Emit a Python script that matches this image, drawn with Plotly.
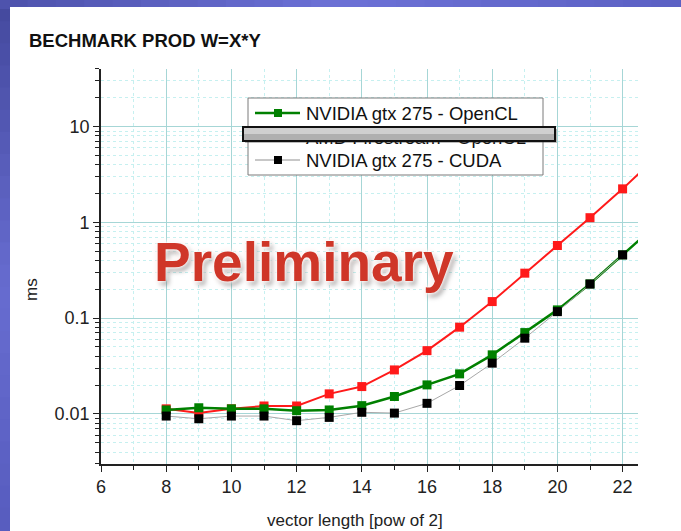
import plotly.graph_objects as go

# Benchmark results: elementwise product W = X*Y, time in ms vs log2(vector length)
vec_pow = [8, 9, 10, 11, 12, 13, 14, 15, 16, 17, 18, 19, 20, 21, 22, 23]
amd_opencl = [0.0113, 0.0102, 0.0113, 0.0121, 0.0121, 0.0162, 0.0193, 0.0288,
              0.0458, 0.0805, 0.149, 0.295, 0.574, 1.12, 2.24, 4.7]
nv_opencl = [0.0110, 0.0116, 0.0113, 0.0113, 0.0108, 0.0110, 0.0122, 0.0152,
             0.0201, 0.0262, 0.0414, 0.0707, 0.122, 0.228, 0.458, 0.92]
cuda_pow = [8, 9, 10, 11, 12, 13, 14, 15, 16, 17, 18, 19, 20, 21, 22]
nv_cuda = [0.0095, 0.0089, 0.0095, 0.0095, 0.0085, 0.0092, 0.0104, 0.0102,
           0.0129, 0.0198, 0.0339, 0.0618, 0.117, 0.227, 0.458]

legend_names = ["NVIDIA gtx 275 - OpenCL", "AMD Firestream - OpenCL", "NVIDIA gtx 275 - CUDA"]
x_ticks = [6, 8, 10, 12, 14, 16, 18, 20, 22]

W, H = 681, 531
L, R, T, B = 101, 43, 69, 67
PW, PH = W - L - R, H - T - B
FONT = "Liberation Sans, Arial"


def px(x):
    return (x - L) / PW


def py(y):
    return (H - B - y) / PH


def mix(c1, c2, t):
    a = [int(c1[i:i + 2], 16) for i in (1, 3, 5)]
    b = [int(c2[i:i + 2], 16) for i in (1, 3, 5)]
    return "rgb(%d,%d,%d)" % tuple(round(a[k] + (b[k] - a[k]) * t) for k in range(3))


fig = go.Figure()

fig.add_trace(go.Scatter(x=vec_pow, y=amd_opencl, mode="lines+markers",
                         line=dict(color="#ff1a1a", width=2),
                         marker=dict(symbol="square", size=9, color="#ff1a1a")))
fig.add_trace(go.Scatter(x=vec_pow, y=nv_opencl, mode="lines+markers",
                         line=dict(color="#008000", width=2.5),
                         marker=dict(symbol="square", size=9, color="#008000")))
fig.add_trace(go.Scatter(x=cuda_pow, y=nv_cuda, mode="lines+markers",
                         line=dict(color="#a8a8a8", width=1),
                         marker=dict(symbol="square", size=9, color="#000000")))

shapes = []
# blue slide frame, shaded in bands
n = 24
for i in range(n):
    t = i / (n - 1)
    c = mix("#454a9f", "#676cd0", t / 0.55) if t < 0.55 else mix("#676cd0", "#585dbf", (t - 0.55) / 0.45)
    shapes.append(dict(type="rect", xref="paper", yref="paper", layer="below",
                       x0=px(-2), x1=px(12), y0=py(H * (i + 1) / n + 1), y1=py(H * i / n - 1),
                       fillcolor=c, line=dict(width=0)))
    c2 = mix("#4e53ad", "#6c71d6", t / 0.5) if t < 0.5 else mix("#6c71d6", "#5c61c4", (t - 0.5) / 0.5)
    shapes.append(dict(type="rect", xref="paper", yref="paper", layer="below",
                       x0=px(W * i / n - 1), x1=px(W * (i + 1) / n + 1), y0=py(9), y1=py(-2),
                       fillcolor=c2, line=dict(width=0)))
# white slide panel
shapes.append(dict(type="rect", xref="paper", yref="paper", layer="below",
                   x0=px(10), x1=px(W + 5), y0=py(H + 5), y1=py(7),
                   fillcolor="white", line=dict(width=0)))

# legend box
shapes.append(dict(type="rect", xref="paper", yref="paper", layer="above",
                   x0=px(248), x1=px(543), y0=py(175), y1=py(98),
                   fillcolor="white", line=dict(color="#7a7a7a", width=1)))
rows = [113, 137, 160]
styles = [("#008000", 2.5, "#008000"), ("#ff1a1a", 2, "#ff1a1a"), ("#909090", 1, "#000000")]
for ry, (lc, lw, mc) in zip(rows, styles):
    shapes.append(dict(type="line", xref="paper", yref="paper", layer="above",
                       x0=px(255), x1=px(300), y0=py(ry), y1=py(ry),
                       line=dict(color=lc, width=lw)))
    shapes.append(dict(type="rect", xref="paper", yref="paper", layer="above",
                       x0=px(274), x1=px(282), y0=py(ry + 4), y1=py(ry - 4),
                       fillcolor=mc, line=dict(width=0)))

annotations = []
for ry, name in zip(rows, legend_names):
    annotations.append(dict(xref="paper", yref="paper", x=px(304), y=py(ry),
                            xanchor="left", yanchor="middle", showarrow=False,
                            text=name, font=dict(family=FONT, size=18.5, color="#111111")))

# grey bar across the middle legend row (shadow, bar, darker lower half)
annotations.append(dict(xref="paper", yref="paper", x=px(245), y=py(129),
                        xanchor="left", yanchor="top", showarrow=False, text=" ",
                        width=312, height=14, bgcolor="rgba(60,60,60,0.35)",
                        borderpad=0, borderwidth=0))
annotations.append(dict(xref="paper", yref="paper", x=px(242), y=py(126),
                        xanchor="left", yanchor="top", showarrow=False, text=" ",
                        width=310, height=12, bgcolor="#cfcfcf",
                        bordercolor="#111111", borderwidth=2, borderpad=0))
annotations.append(dict(xref="paper", yref="paper", x=px(244), y=py(134),
                        xanchor="left", yanchor="top", showarrow=False, text=" ",
                        width=310, height=6, bgcolor="#afafaf",
                        borderpad=0, borderwidth=0))

# titles
annotations.append(dict(xref="paper", yref="paper", x=px(27), y=py(40),
                        xanchor="left", yanchor="middle", showarrow=False,
                        text="<b>BECHMARK PROD W=X*Y</b>",
                        font=dict(family=FONT, size=18.5, color="#111111")))
annotations.append(dict(xref="paper", yref="paper", x=px(355), y=py(520),
                        xanchor="center", yanchor="middle", showarrow=False,
                        text="vector length [pow of 2]",
                        font=dict(family=FONT, size=17, color="#222222")))
annotations.append(dict(xref="paper", yref="paper", x=px(31), y=py(290),
                        xanchor="center", yanchor="middle", showarrow=False,
                        text="ms", textangle=-90,
                        font=dict(family=FONT, size=17, color="#222222")))

# watermark
annotations.append(dict(xref="paper", yref="paper", x=px(304), y=py(262),
                        xanchor="center", yanchor="middle", showarrow=False,
                        text="<b>Preliminary</b>",
                        font=dict(family=FONT, size=55, color="#cf3628",
                                  shadow="0 0 2px #ffffff, 0 0 4px #ffffff, 0 0 6px #ffe8e4, 3px 4px 5px rgba(0,0,0,0.35)")))

fig.update_layout(
    width=W, height=H,
    margin=dict(l=L, r=R, t=T, b=B),
    paper_bgcolor="#5f64c6",
    plot_bgcolor="white",
    showlegend=False,
    shapes=shapes,
    annotations=annotations,
    font=dict(family=FONT, size=17, color="#222222"),
)

fig.update_xaxes(
    range=[6, 6 + PW / 32.6], tickvals=x_ticks, ticks="outside", ticklen=6, tickwidth=1.2,
    tickcolor="#222222", showline=True, linecolor="#222222", linewidth=1.6,
    showgrid=True, gridcolor="#a6d6d6", gridwidth=1, zeroline=False,
    minor=dict(dtick=1, tick0=0, ticks="outside", ticklen=4, tickcolor="#222222",
               showgrid=True, gridcolor="#c6f0f0", griddash="dot"),
    tickfont=dict(size=18, color="#222222"),
)
fig.update_yaxes(
    type="log", range=[-2.523, 1.602], dtick=1, ticks="outside", ticklen=6, tickwidth=1.2,
    tickcolor="#222222", showline=True, linecolor="#222222", linewidth=1.6,
    showgrid=True, gridcolor="#a6d6d6", gridwidth=1, zeroline=False,
    minor=dict(dtick="D1", ticks="outside", ticklen=4, tickcolor="#222222",
               showgrid=True, gridcolor="#c6f0f0", griddash="dot"),
    tickfont=dict(size=18, color="#222222"),
)

fig.write_html("out.html")
